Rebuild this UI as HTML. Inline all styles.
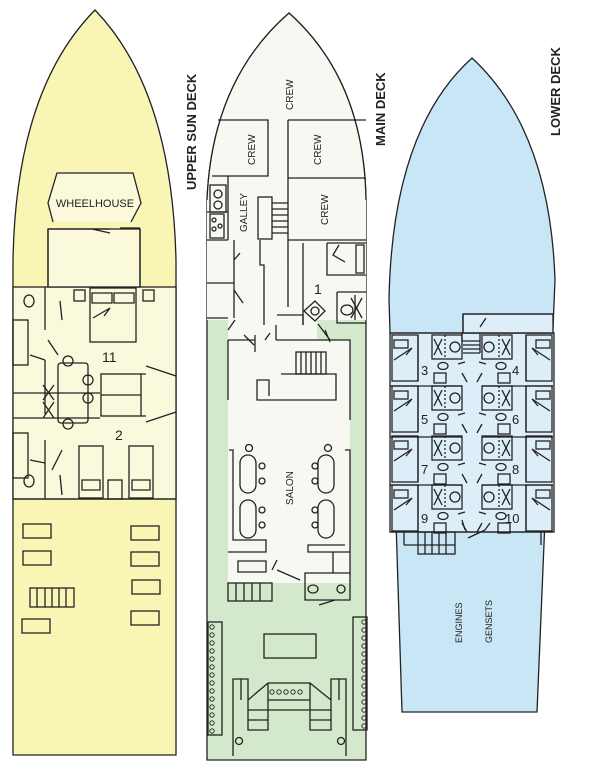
<!DOCTYPE html>
<html><head><meta charset="utf-8"><style>
html,body{margin:0;padding:0;background:#fff;width:600px;height:774px;overflow:hidden}
svg{display:block}
text{font-family:"Liberation Sans",sans-serif;fill:#222}
</style></head><body>
<svg width="600" height="774" viewBox="0 0 600 774" xmlns="http://www.w3.org/2000/svg">
<g stroke="#222" stroke-width="1.3" fill="none">
<!-- UPPER SUN DECK -->
<path d="M13,755 L13,260 Q16,90 95,10 Q172,90 176,260 L176,755 Z" fill="#f9f5b4"/>
<rect x="13" y="287" width="163" height="212" fill="#fbf9dc"/>
<rect x="48" y="229" width="92" height="58" fill="#fbf9dc"/>
<path d="M53,222 L48,203 L57,173 L133,173 L141,203 L131,222" fill="#fbf9dc"/>
<path d="M48,229 L48,287 M140,229 L140,287 M48,229 L110,229 M120,228 L140,228 M92,229 L110,233"/>
<path d="M45,287 L45,330 M45,360 L45,414 M45,440 L45,499 M13,393 L100,393 M13,418 L100,418"/>
<rect x="13" y="320" width="15" height="45"/><rect x="13" y="433" width="15" height="45"/>
<path d="M30,355 L45,360 M30,460 L45,463 M48,340 L58,355 M60,301 L62,320 M62,450 L52,470 M60,475 L62,495"/>
<ellipse cx="29" cy="301" rx="5" ry="6"/><ellipse cx="29" cy="481" rx="5" ry="6"/>
<rect x="74" y="290" width="11" height="11"/><rect x="143" y="290" width="11" height="11"/>
<rect x="90" y="288" width="46" height="54"/><path d="M92,293 h20 v10 h-20 z M114,293 h20 v10 h-20 z M93,318 L110,308 L104,316"/>
<rect x="58" y="363" width="30" height="60" rx="3"/>
<circle cx="68" cy="361" r="5"/><circle cx="88" cy="380" r="5"/><circle cx="88" cy="398" r="5"/><circle cx="68" cy="424" r="5"/>
<rect x="101" y="374" width="40" height="42"/><path d="M101,395 L141,395 M141,374 L146,374 M141,416 L146,416 M146,366 L176,376 M146,422 L176,412"/>
<path d="M43,385 L54,400 M54,385 L43,400 M43,402 L54,418 M54,402 L43,418"/>
<rect x="79" y="446" width="24" height="52"/><rect x="129" y="446" width="24" height="52"/>
<rect x="108" y="480" width="14" height="19"/>
<path d="M82,480 h18 v10 h-18 z M132,480 h18 v10 h-18 z"/>
<line x1="13" y1="499" x2="176" y2="499"/>
<rect x="23" y="524" width="28" height="14"/><rect x="23" y="551" width="28" height="14"/><rect x="22" y="619" width="28" height="14"/>
<rect x="131" y="526" width="28" height="14"/><rect x="131" y="552" width="28" height="14"/><rect x="132" y="580" width="28" height="14"/><rect x="131" y="611" width="28" height="14"/>
<rect x="30" y="588" width="44" height="19"/><path d="M37,588v19 M45,588v19 M52,588v19 M59,588v19 M66,588v19"/>

<!-- MAIN DECK -->
<path d="M207,760 L207,200 Q212,80 289,13 Q364,80 366,200 L366,760 Z" fill="#d4e8cc"/>
<path d="M207,320 L207,200 Q212,80 289,13 Q364,80 366,200 L366,320 L317,320 L317,340 L228,340 L228,320 Z" fill="#f8f8f2" stroke="none"/>
<path d="M228,340 L350,340 L350,583 L228,583 Z" fill="#f8f8f2" stroke="none"/>
<path d="M207,200 Q212,80 289,13 Q364,80 366,200"/>
<path d="M218,120 L268,120 L268,176 L212,176 M288,120 L366,120 M288,120 L288,240 L366,240 M288,178 L366,178"/>
<path d="M228,176 L228,240 M207,240 L228,240 M207,212 L228,212"/>
<rect x="210" y="185" width="16" height="27"/><circle cx="218" cy="194" r="4"/><circle cx="218" cy="205" r="4"/>
<rect x="210" y="214" width="14" height="24"/><circle cx="214" cy="220" r="2"/><circle cx="214" cy="229" r="2"/><circle cx="220" cy="226" r="2"/>
<rect x="258" y="197" width="14" height="42"/><path d="M272,203h16 M272,209h16 M272,215h16 M272,221h16 M272,227h16 M272,233h16"/>
<path d="M207,283 L234,283 M234,240 L234,318 M207,318 L228,318 M234,260 L240,253 M234,290 L243,303"/>
<path d="M260,240 L260,265 L264,265 L264,325 M288,240 L288,307 M303,243 L303,325 M327,243 L366,243 M327,243 L327,275 L366,275"/>
<path d="M339,245 L333,255 L345,262 M356,245 h8 v28 h-8 z"/>
<text x="314" y="294" font-size="14" stroke="none">1</text>
<path d="M337,292 L366,292 M337,292 L337,323 L366,323 M355,295 L355,320" />
<ellipse cx="347" cy="310" rx="6" ry="5"/><path d="M351,298 L362,318 M362,298 L351,318"/>
<path d="M304,311 L315,301 L325,311 L315,321 Z"/><circle cx="315" cy="311" r="4"/>
<path d="M277,315 L303,315 L303,325 M276,325 L276,340 M228,340 L255,340 M255,335 L255,352 M254,345 L244,335 M276,340 L350,340 L350,420 M325,330 L330,342 M318,324 L330,340"/>
<path d="M228,340 L228,400 M228,330 L235,320 M265,340 L270,333"/>
<rect x="296" y="352" width="30" height="22"/><path d="M301,352v22 M306,352v22 M311,352v22 M316,352v22 M321,352v22"/>
<path d="M281,374 L336,374 L336,400 L257,400 L257,380 L269,380 L269,396"/>
<path d="M229,450 L233,450 L233,540 L266,540 L266,552 L228,552 M345,450 L350,450 L350,573 M345,545 L308,545 L308,552 L350,552"/>
<rect x="240" y="455" width="16" height="38" rx="8"/><rect x="240" y="500" width="16" height="38" rx="8"/>
<rect x="318" y="455" width="16" height="38" rx="8"/><rect x="318" y="500" width="16" height="38" rx="8"/>
<circle cx="249" cy="448" r="3.5"/><circle cx="262" cy="466" r="3"/><circle cx="262" cy="481" r="3"/><circle cx="262" cy="510" r="3"/><circle cx="262" cy="525" r="3"/>
<circle cx="328" cy="448" r="3.5"/><circle cx="315" cy="466" r="3"/><circle cx="315" cy="481" r="3"/><circle cx="315" cy="510" r="3"/><circle cx="315" cy="525" r="3"/>
<path d="M238,561 L266,561 L266,572 L238,572 Z M277,560 L272,570 M277,570 L300,580 M305,573 L350,573 L350,600 L305,600 Z M333,552 L333,573"/>
<rect x="228" y="583" width="44" height="18"/><path d="M236,583v18 M244,583v18 M252,583v18 M260,583v18"/>
<ellipse cx="313" cy="589" rx="5" ry="4"/><circle cx="341" cy="589" r="4"/><path d="M319,605 L335,600"/>
<rect x="208" y="622" width="14" height="113"/><rect x="353" y="617" width="14" height="113"/>
<g stroke-width="0.9">
<circle cx="212" cy="627" r="2.2"/><circle cx="212" cy="635" r="2.2"/><circle cx="212" cy="643" r="2.2"/><circle cx="212" cy="651" r="2.2"/><circle cx="212" cy="659" r="2.2"/><circle cx="212" cy="667" r="2.2"/><circle cx="212" cy="675" r="2.2"/><circle cx="212" cy="683" r="2.2"/><circle cx="212" cy="691" r="2.2"/><circle cx="212" cy="699" r="2.2"/><circle cx="212" cy="707" r="2.2"/><circle cx="212" cy="715" r="2.2"/><circle cx="212" cy="723" r="2.2"/><circle cx="212" cy="731" r="2.2"/>
<circle cx="364" cy="622" r="2.2"/><circle cx="364" cy="630" r="2.2"/><circle cx="364" cy="638" r="2.2"/><circle cx="364" cy="646" r="2.2"/><circle cx="364" cy="654" r="2.2"/><circle cx="364" cy="662" r="2.2"/><circle cx="364" cy="670" r="2.2"/><circle cx="364" cy="678" r="2.2"/><circle cx="364" cy="686" r="2.2"/><circle cx="364" cy="694" r="2.2"/><circle cx="364" cy="702" r="2.2"/><circle cx="364" cy="710" r="2.2"/><circle cx="364" cy="718" r="2.2"/><circle cx="364" cy="726" r="2.2"/>
<circle cx="272" cy="692" r="2.2"/><circle cx="279" cy="692" r="2.2"/><circle cx="286" cy="692" r="2.2"/><circle cx="293" cy="692" r="2.2"/><circle cx="300" cy="692" r="2.2"/>
</g>
<rect x="264" y="634" width="52" height="24"/>
<path d="M233,756 L233,679 L248,679 L248,700 M346,756 L346,679 L331,679 L331,700 M248,700 L268,683 L310,683 L331,700 M268,683 L268,700 L310,700 L310,683 M248,710 L331,710 M248,700 L248,730 L268,730 L268,700 M310,700 L310,730 L331,730 L331,700 M248,710h20 M248,720h20 M310,710h21 M310,720h21 M241,679 L241,700 M339,679 L339,700"/>
<circle cx="239" cy="741" r="3.5"/><circle cx="341" cy="741" r="3.5"/>

<!-- LOWER DECK -->
<path d="M402,712 L389,300 Q392,130 472,58 Q550,130 555,280 L537,712 Z" fill="#c8e6f5"/>
<rect x="390" y="333" width="164" height="199" fill="#ddeef8"/>
<rect x="463" y="314" width="90" height="19" fill="#ddeef8"/>
<path d="M463,314 L553,314 M463,314 L463,333 M390,333 L553,333 M390,532 L553,532 M390,386 L462,386 M482,386 L553,386 M390,437 L462,437 M482,437 L553,437 M390,485 L462,485 M482,485 L553,485"/>
<path d="M404,545 L404,532 M541,545 L541,532 M404,545 L455,545"/>
<rect x="418" y="532" width="37" height="22"/><path d="M425,532v22 M432,532v22 M439,532v22 M446,532v22"/>
<path d="M462,333v8 h18 M463,345h17 M463,349h17 M463,353h17 M480,333v20 M480,327 L486,318"/>
<g id="L">
<rect x="392" y="335" width="26" height="46"/><rect x="394" y="340" width="14" height="8"/><path d="M394,360 L412,348 L406,355 M418,335 L418,381"/>
<rect x="432" y="335" width="30" height="24"/><circle cx="455" cy="347" r="5"/><path d="M445,335 L445,359" stroke-dasharray="2,2"/><path d="M434,339 L442,355 M442,339 L434,355"/>
<ellipse cx="443" cy="366" rx="5" ry="3.5"/><path d="M458,364 L465,362 M462,373 L467,382"/>
<rect x="434" y="373" width="12" height="10"/>
</g>
<use href="#L" transform="translate(0,51)"/><use href="#L" transform="translate(0,101)"/><use href="#L" transform="translate(0,150)"/>
<use href="#L" transform="translate(944,0) scale(-1,1)"/>
<use href="#L" transform="translate(944,51) scale(-1,1)"/>
<use href="#L" transform="translate(944,101) scale(-1,1)"/>
<use href="#L" transform="translate(944,150) scale(-1,1)"/>
<path d="M462,520 L465,530 M468,538 L485,530 L490,523"/>
</g>
<g stroke="none">
<text x="95" y="207" font-size="11" text-anchor="middle">WHEELHOUSE</text>
<text x="102" y="362" font-size="14">11</text>
<text x="115" y="440" font-size="14">2</text>
<text transform="translate(196,190) rotate(-90)" font-size="13" font-weight="bold">UPPER SUN DECK</text>
<text transform="translate(385,146) rotate(-90)" font-size="13" font-weight="bold">MAIN DECK</text>
<text transform="translate(560,136) rotate(-90)" font-size="13" font-weight="bold">LOWER DECK</text>
<text transform="translate(293,110) rotate(-90)" font-size="10">CREW</text>
<text transform="translate(255,165) rotate(-90)" font-size="10">CREW</text>
<text transform="translate(321,165) rotate(-90)" font-size="10">CREW</text>
<text transform="translate(328,225) rotate(-90)" font-size="10">CREW</text>
<text transform="translate(247,232) rotate(-90)" font-size="10">GALLEY</text>
<text transform="translate(293,505) rotate(-90)" font-size="10">SALON</text>
<text transform="translate(462,643) rotate(-90)" font-size="9">ENGINES</text>
<text transform="translate(492,643) rotate(-90)" font-size="9">GENSETS</text>
<text x="421" y="375" font-size="13">3</text><text x="512" y="375" font-size="13">4</text>
<text x="421" y="424" font-size="13">5</text><text x="512" y="424" font-size="13">6</text>
<text x="421" y="474" font-size="13">7</text><text x="512" y="474" font-size="13">8</text>
<text x="421" y="523" font-size="13">9</text><text x="505" y="523" font-size="13">10</text>
</g>
</svg>
</body></html>
